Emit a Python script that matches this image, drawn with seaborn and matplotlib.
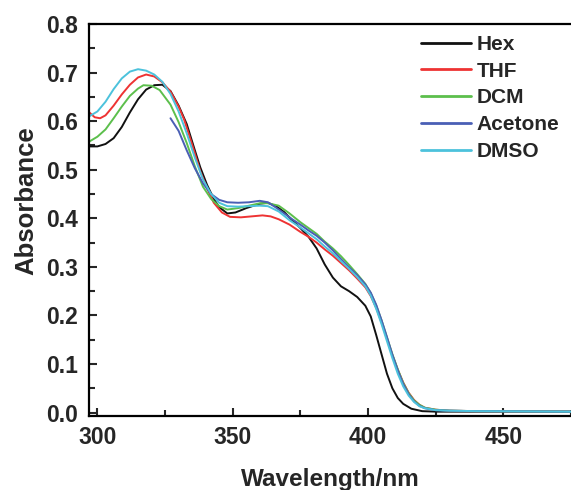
import numpy as np
import pandas as pd
import matplotlib
matplotlib.use("Agg")
import matplotlib.pyplot as plt
import seaborn as sns
from matplotlib.ticker import MultipleLocator

hex_wl = [297, 300, 303, 306, 309, 312, 315, 318, 321, 324, 327, 330, 333, 336, 338,
          340.5, 343, 345, 348, 351, 355, 360, 363, 366, 369, 372, 375, 378, 381, 384,
          387, 390, 393, 396, 399, 401, 403, 405, 407, 409, 411, 413, 416, 420, 425, 475]
hex_abs = [0.548, 0.548, 0.553, 0.565, 0.588, 0.618, 0.645, 0.665, 0.674, 0.675, 0.662,
           0.632, 0.594, 0.540, 0.505, 0.469, 0.440, 0.423, 0.410, 0.412, 0.421, 0.430,
           0.432, 0.425, 0.413, 0.396, 0.380, 0.362, 0.338, 0.305, 0.278, 0.260, 0.250,
           0.238, 0.220, 0.198, 0.160, 0.120, 0.080, 0.050, 0.030, 0.018, 0.008, 0.003,
           0.002, 0.002]

thf_wl = [297, 299, 301, 303, 306, 309, 312, 315, 318, 321, 324, 327, 330, 332, 335, 338,
          340.5, 343, 346, 349, 353, 357, 361, 364, 367, 371, 375, 378, 381, 384, 387,
          390, 393, 396, 399, 401, 403, 405, 407, 409, 411, 413, 415, 417, 419, 421, 425,
          430, 440, 475]
thf_abs = [0.618, 0.608, 0.606, 0.612, 0.632, 0.655, 0.675, 0.690, 0.696, 0.692, 0.680,
           0.661, 0.630, 0.604, 0.552, 0.497, 0.462, 0.432, 0.412, 0.403, 0.402, 0.404,
           0.406, 0.404, 0.398, 0.387, 0.372, 0.362, 0.350, 0.336, 0.323, 0.308, 0.293,
           0.276, 0.258, 0.240, 0.216, 0.186, 0.152, 0.118, 0.088, 0.062, 0.041, 0.026,
           0.016, 0.010, 0.006, 0.004, 0.003, 0.002]

dcm_wl = [297, 300, 303, 306, 309, 312, 315, 317, 320, 323, 327, 330, 333, 336, 339, 342,
          345, 348, 352, 356, 360, 363, 367, 371, 375, 378, 381, 384, 387, 390, 393, 396,
          399, 401, 403, 405, 407, 409, 411, 413, 415, 417, 419, 421, 425, 430, 440, 475]
dcm_abs = [0.558, 0.568, 0.583, 0.606, 0.630, 0.652, 0.667, 0.674, 0.673, 0.664, 0.634,
           0.598, 0.555, 0.507, 0.465, 0.440, 0.425, 0.418, 0.421, 0.426, 0.431, 0.431,
           0.426, 0.410, 0.392, 0.380, 0.368, 0.352, 0.338, 0.322, 0.304, 0.285, 0.265,
           0.246, 0.221, 0.190, 0.155, 0.120, 0.089, 0.061, 0.040, 0.025, 0.016, 0.010,
           0.006, 0.004, 0.003, 0.002]

acetone_wl = [327, 330, 333, 336, 339, 342, 345, 348, 352, 356, 360, 363, 366, 369, 372,
              375, 378, 381, 384, 387, 390, 393, 396, 399, 401, 403, 405, 407, 409, 411,
              413, 415, 417, 419, 421, 425, 430, 440, 475]
acetone_abs = [0.606, 0.580, 0.540, 0.503, 0.472, 0.450, 0.438, 0.433, 0.432, 0.433, 0.436,
               0.433, 0.422, 0.410, 0.398, 0.387, 0.375, 0.364, 0.350, 0.334, 0.316, 0.299,
               0.283, 0.264, 0.247, 0.222, 0.190, 0.155, 0.119, 0.087, 0.059, 0.038, 0.023,
               0.014, 0.009, 0.005, 0.004, 0.003, 0.002]

dmso_wl = [297, 300, 303, 306, 309, 312, 315, 318, 321, 324, 327, 330, 333, 336, 339, 342,
           345, 348, 352, 356, 360, 363, 367, 371, 375, 378, 381, 384, 387, 390, 393, 396,
           399, 401, 403, 405, 407, 409, 411, 413, 415, 417, 419, 421, 425, 430, 440, 475]
dmso_abs = [0.610, 0.620, 0.640, 0.666, 0.688, 0.702, 0.707, 0.704, 0.696, 0.681, 0.656,
            0.620, 0.575, 0.525, 0.480, 0.450, 0.432, 0.425, 0.424, 0.425, 0.426, 0.425,
            0.414, 0.396, 0.381, 0.369, 0.357, 0.342, 0.328, 0.312, 0.296, 0.279, 0.260,
            0.241, 0.214, 0.182, 0.147, 0.112, 0.080, 0.054, 0.035, 0.022, 0.013, 0.009,
            0.005, 0.004, 0.003, 0.002]

solventes = ["Hex", "THF", "DCM", "Acetone", "DMSO"]
cores = {"Hex": "#111111", "THF": "#ee3333", "DCM": "#5cbf4c",
         "Acetone": "#4a5fb5", "DMSO": "#4cc2dc"}

series = {"Hex": (hex_wl, hex_abs), "THF": (thf_wl, thf_abs), "DCM": (dcm_wl, dcm_abs),
          "Acetone": (acetone_wl, acetone_abs), "DMSO": (dmso_wl, dmso_abs)}
df = pd.concat([pd.DataFrame({"wl": w, "abs": a, "Solvente": s})
                for s, (w, a) in series.items()], ignore_index=True)

sns.set_style("ticks")
plt.rcParams["font.family"] = ["Liberation Sans", "DejaVu Sans"]
plt.rcParams["font.weight"] = "bold"

fig = plt.figure(figsize=(5.71, 4.90), dpi=100)
ax = fig.add_axes([0.1564, 0.151, 0.8436, 0.800])

sns.lineplot(data=df, x="wl", y="abs", hue="Solvente", hue_order=solventes,
             palette=cores, estimator=None, sort=False, linewidth=1.4, ax=ax)

ax.set_xlim(297, 475)
ax.set_ylim(-0.007, 0.8)
ax.xaxis.set_major_locator(MultipleLocator(50))
ax.xaxis.set_minor_locator(MultipleLocator(25))
ax.yaxis.set_major_locator(MultipleLocator(0.1))
ax.yaxis.set_minor_locator(MultipleLocator(0.05))
ax.yaxis.set_major_formatter(matplotlib.ticker.FormatStrFormatter("%.1f"))

ax.tick_params(which="major", direction="in", length=6, width=1.5, labelsize=16.5, pad=7)
ax.tick_params(which="minor", direction="in", length=4, width=1.5)
ax.tick_params(axis="y", which="major", pad=8)
for lab in ax.get_xticklabels() + ax.get_yticklabels():
    lab.set_fontweight("bold")

for side in ["left", "bottom", "top"]:
    ax.spines[side].set_linewidth(1.6)
    ax.spines[side].set_color("black")
ax.spines["right"].set_visible(False)

ax.set_xlabel("Wavelength/nm", fontsize=17.5, fontweight="bold", labelpad=14)
ax.set_ylabel("Absorbance", fontsize=18.5, fontweight="bold")
ax.yaxis.set_label_coords(-0.105, 0.55)

leg = ax.legend(loc="upper left", bbox_to_anchor=(0.688, 0.972), frameon=False,
                fontsize=15, handlelength=2.4, handletextpad=0.3,
                labelspacing=0.37, borderpad=0, borderaxespad=0)
for t in leg.get_texts():
    t.set_fontweight("bold")
for h in leg.get_lines():
    h.set_linewidth(2)

fig.savefig("out.png", dpi=100)
